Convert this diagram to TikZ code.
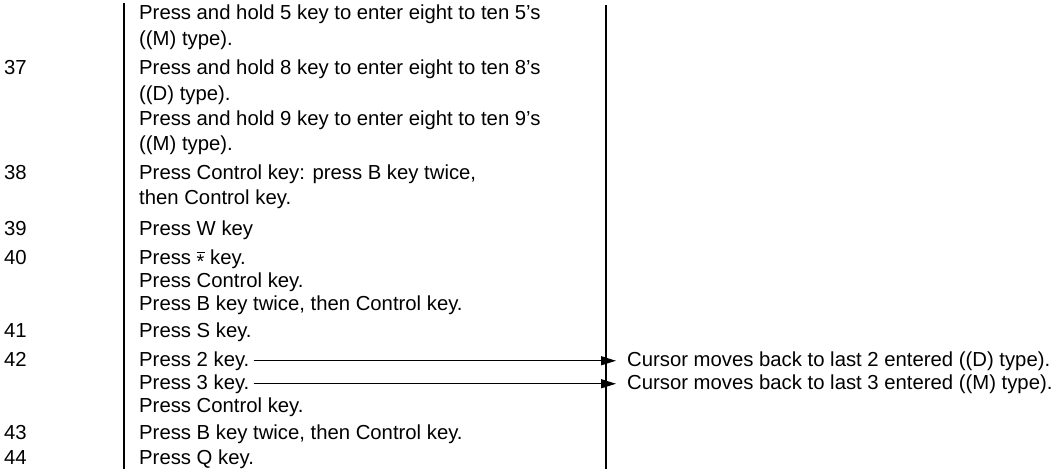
\documentclass[tikz,border=0pt]{standalone}
\usepackage{fontspec}
\setmainfont{Liberation Sans}
\usetikzlibrary{arrows.meta}
\newcommand\ovast{\leavevmode\setbox0\hbox{\raisebox{-0.45ex}{\fontsize{20}{20}\selectfont *}}\rlap{\raisebox{1.0ex}{\rule{\wd0}{0.9pt}}}\dp0=0pt\box0}
\begin{document}
\begin{tikzpicture}[x=1pt,y=-1pt,
  txt/.style={anchor=base west, inner sep=0pt, font=\fontsize{20.3}{25}\selectfont},
  rulel/.style={line width=1.8pt},
  pointer/.style={line width=1.3pt, -{Triangle[length=15pt,width=9pt]}}]
\useasboundingbox (0,0) rectangle (1053,469);
% column rules
\coordinate (lt) at (124,3);
\coordinate (lb) at (124,469);
\coordinate (rt) at (606,5);
\coordinate (rb) at (606,469);
\draw[rulel] (lt) -- (lb);
\draw[rulel] (rt) -- (rb);
% step numbers
\node[txt] (n37) at (4,74) {37};
\node[txt] (n38) at (4,179) {38};
\node[txt] (n39) at (4,235) {39};
\node[txt] (n40) at (4,264) {40};
\node[txt] (n41) at (4,337) {41};
\node[txt] (n42) at (4,366) {42};
\node[txt] (n43) at (4,439) {43};
\node[txt] (n44) at (4,464) {44};
% instructions
\node[txt] (l1) at (139,19) {Press and hold 5 key to enter eight to ten 5’s};
\node[txt] (l2) at (139,45) {((M) type).};
\node[txt] (l3) at (139,74) {Press and hold 8 key to enter eight to ten 8’s};
\node[txt] (l4) at (139,100) {((D) type).};
\node[txt] (l5) at (139,125) {Press and hold 9 key to enter eight to ten 9’s};
\node[txt] (l6) at (139,150) {((M) type).};
\node[txt] (l7) at (139,179) {Press Control key: press B key twice,};
\node[txt] (l8) at (139,204) {then Control key.};
\node[txt] (l9) at (139,235) {Press W key};
\node[txt] (l10) at (139,264) {Press \ovast{} key.};
\node[txt] (l11) at (139,287) {Press Control key.};
\node[txt] (l12) at (139,310) {Press B key twice, then Control key.};
\node[txt] (l13) at (139,337) {Press S key.};
\node[txt] (l14) at (139,366) {Press 2 key.};
\node[txt] (l15) at (139,389) {Press 3 key.};
\node[txt] (l16) at (139,412) {Press Control key.};
\node[txt] (l17) at (139,439) {Press B key twice, then Control key.};
\node[txt] (l18) at (139,464) {Press Q key.};
% results
\node[txt] (c1) at (627,366) {Cursor moves back to last 2 entered ((D) type).};
\node[txt] (c2) at (627,389) {Cursor moves back to last 3 entered ((M) type).};
% arrows
\coordinate (tipx) at (616,0);
\draw[pointer] ([xshift=4pt]l14.east) -- (l14.east -| tipx);
\draw[pointer] ([xshift=4pt]l15.east) -- (l15.east -| tipx);
\end{tikzpicture}
\end{document}
